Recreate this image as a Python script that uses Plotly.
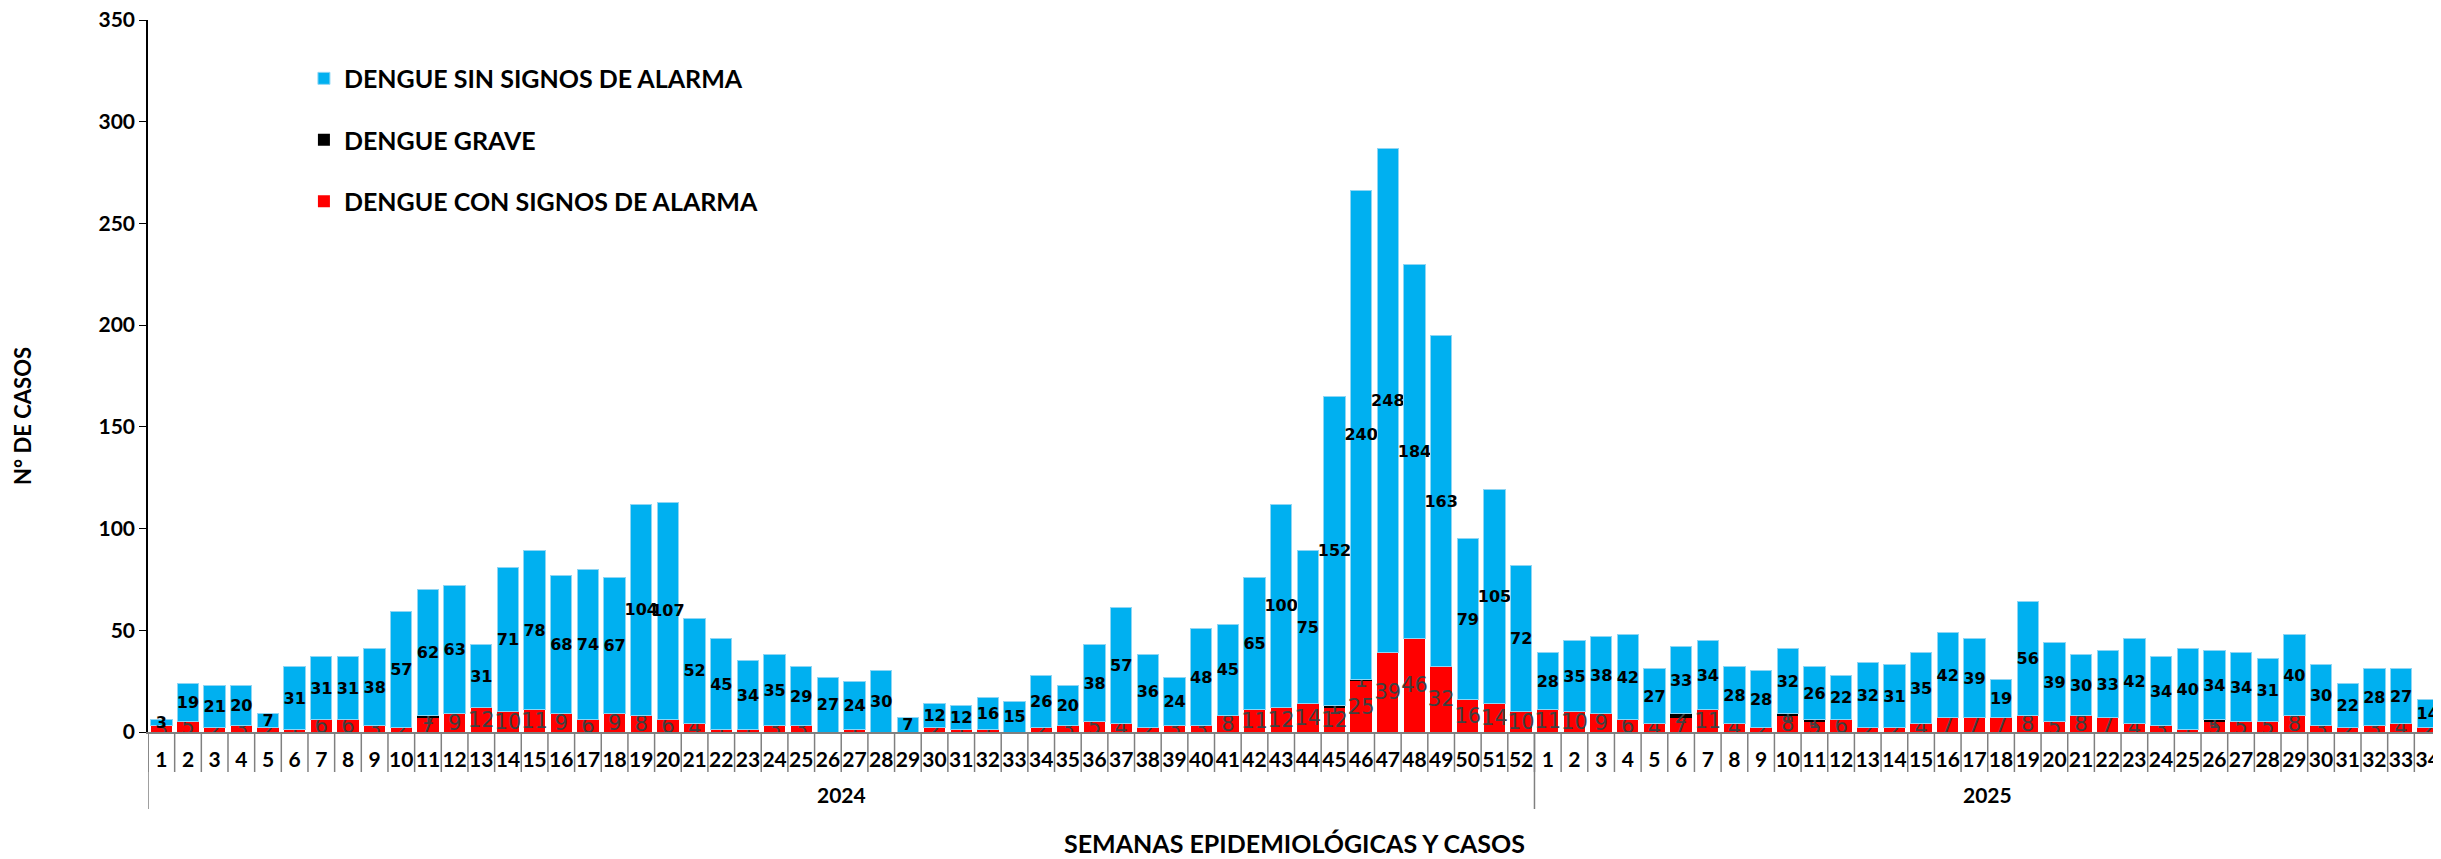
import plotly.graph_objects as go

# ---- data ----
year_labels = ["2024", "2025"]
weeks_per_year = [52, 34]

con_alarma = [3, 5, 2, 3, 2, 1, 6, 6, 3, 2, 7, 9, 12, 10, 11, 9, 6, 9, 8, 6,
              4, 1, 1, 3, 3, 0, 1, 0, 0, 2, 1, 1, 0, 2, 3, 5, 4, 2, 3, 3,
              8, 11, 12, 14, 12, 25, 39, 46, 32, 16, 14, 10,
              11, 10, 9, 6, 4, 7, 11, 4, 2, 8, 5, 6, 2, 2, 4, 7, 7, 7, 8, 5,
              8, 7, 4, 3, 1, 5, 5, 5, 8, 3, 2, 3, 4, 2]
grave = [0, 0, 0, 0, 0, 0, 0, 0, 0, 0, 1, 0, 0, 0, 0, 0, 0, 0, 0, 0,
         0, 0, 0, 0, 0, 0, 0, 0, 0, 0, 0, 0, 0, 0, 0, 0, 0, 0, 0, 0,
         0, 0, 0, 0, 1, 1, 0, 0, 0, 0, 0, 0,
         0, 0, 0, 0, 0, 2, 0, 0, 0, 1, 1, 0, 0, 0, 0, 0, 0, 0, 0, 0,
         0, 0, 0, 0, 0, 1, 0, 0, 0, 0, 0, 0, 0, 0]
sin_alarma = [3, 19, 21, 20, 7, 31, 31, 31, 38, 57, 62, 63, 31, 71, 78, 68, 74, 67, 104, 107,
              52, 45, 34, 35, 29, 27, 24, 30, 7, 12, 12, 16, 15, 26, 20, 38, 57, 36, 24, 48,
              45, 65, 100, 75, 152, 240, 248, 184, 163, 79, 105, 72,
              28, 35, 38, 42, 27, 33, 34, 28, 28, 32, 26, 22, 32, 31, 35, 42, 39, 19, 56, 39,
              30, 33, 42, 34, 40, 34, 34, 31, 40, 30, 22, 28, 27, 14]

# category keys (unique) and the week number shown as tick label
keys, week_text = [], []
for yl, n in zip(year_labels, weeks_per_year):
    for w in range(1, n + 1):
        keys.append(f"{yl}-{w}")
        week_text.append(str(w))
n_total = len(keys)


def labels(vals):
    return [str(v) if v else "" for v in vals]


small_font = dict(family="DejaVu Sans", size=21, color="#404040")
big_font = dict(family="DejaVu Sans", size=16, color="#000000", weight="bold")

fig = go.Figure()
fig.add_bar(name="DENGUE CON SIGNOS DE ALARMA", x=keys, y=con_alarma,
            marker=dict(color="#FF0000", line=dict(width=0)),
            text=labels(con_alarma), textposition="inside", textangle=0,
            constraintext="none", insidetextanchor="middle",
            textfont=small_font, legendgroup="c", legendrank=3)
fig.add_bar(name="DENGUE GRAVE", x=keys, y=grave,
            marker=dict(color="#000000", line=dict(width=0)),
            text=labels(grave), textposition="inside", textangle=0,
            constraintext="none", insidetextanchor="middle",
            textfont=small_font, legendgroup="b", legendrank=2)
fig.add_bar(name="DENGUE SIN SIGNOS DE ALARMA", x=keys, y=sin_alarma,
            marker=dict(color="#00B0F0", line=dict(width=1, color="#8fd6f4")),
            text=labels(sin_alarma), textposition="inside", textangle=0,
            constraintext="none", insidetextanchor="middle",
            textfont=big_font, legendgroup="a", legendrank=1)

plot_h = 712.0  # plot-area height in px (851 - 12 - 127)
grey = "#808080"
label_font = dict(family="Lato", size=21, color="#000000", weight="bold")

shapes = []
# week separators (tick-like lines at every category boundary)
for i in range(n_total + 1):
    shapes.append(dict(type="line", xref="x", yref="paper", x0=i - 0.5, x1=i - 0.5,
                       y0=0, y1=-40 / plot_h, line=dict(color=grey, width=1.5)))
# year labels and year separators (longer lines)
annotations = []
start = 0
bounds = [0]
for yl, n in zip(year_labels, weeks_per_year):
    annotations.append(dict(text=yl, xref="x", yref="paper", x=start + (n - 1) / 2,
                            y=-62 / plot_h, xanchor="center", yanchor="middle",
                            showarrow=False, font=label_font))
    start += n
    bounds.append(start)
for b in bounds:
    shapes.append(dict(type="line", xref="x", yref="paper", x0=b - 0.5, x1=b - 0.5,
                       y0=0, y1=-77 / plot_h, line=dict(color=grey, width=1.5)))

annotations += [
    dict(text="N° DE CASOS", textangle=-90, xref="paper", yref="paper",
         x=-0.0545, y=0.444, xanchor="center", yanchor="middle", showarrow=False,
         font=dict(family="Lato", size=22, color="#000000", weight="bold")),
    dict(text="SEMANAS EPIDEMIOLÓGICAS Y CASOS", xref="paper", yref="paper",
         x=0.5, y=-111 / plot_h, xanchor="center", yanchor="middle", showarrow=False,
         font=dict(family="Lato", size=25, color="#000000", weight="bold")),
]

fig.update_layout(
    width=2433, height=851,
    barmode="stack", bargap=0.2,
    plot_bgcolor="white", paper_bgcolor="white",
    margin=dict(l=140, r=0, t=12, b=127, autoexpand=False),
    showlegend=True,
    legend=dict(x=0.068, y=0.95, xanchor="left", yanchor="top",
                traceorder="grouped", tracegroupgap=26,
                font=dict(family="Lato", size=25, color="#000000", weight="bold"),
                bgcolor="rgba(0,0,0,0)"),
    xaxis=dict(type="category", range=[-0.5, n_total - 0.5], tickangle=0,
               tickmode="array", tickvals=keys, ticktext=week_text,
               showline=True, linecolor=grey, linewidth=1.5,
               ticks="", ticklabelstandoff=8,
               tickfont=label_font, showgrid=False, automargin=False),
    yaxis=dict(range=[0, 350], dtick=50, showline=True, linecolor="#000000",
               linewidth=1.5, ticks="outside", ticklen=7, tickcolor="#000000",
               ticklabeloverflow="allow",
               tickfont=dict(family="Lato", size=21, color="#000000", weight="bold"),
               showgrid=False, zeroline=False, automargin=False),
    shapes=shapes,
    annotations=annotations,
)

fig.write_html("out.html")
